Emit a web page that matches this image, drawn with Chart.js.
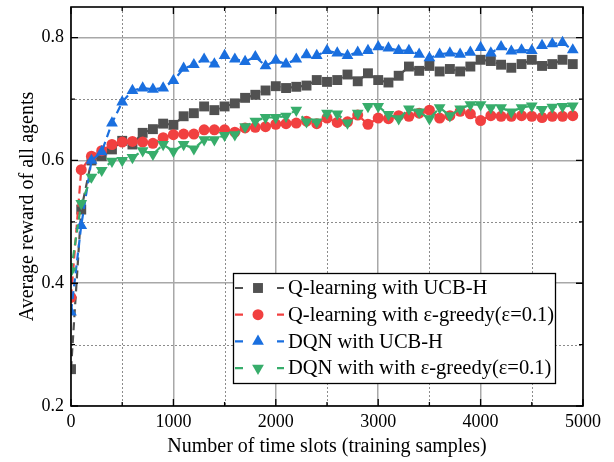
<!DOCTYPE html>
<html><head><meta charset="utf-8">
<script src="https://cdn.jsdelivr.net/npm/chart.js@4/dist/chart.umd.min.js"></script>
<style>html,body{margin:0;padding:0;background:#fff}</style>
</head><body>
<canvas id="c" width="614" height="462" style="display:block;width:614px;height:462px"></canvas>
<script>
// ---- data ----
const trainingSlots = [0,100,200,300,400,500,600,700,800,900,1000,1100,1200,1300,1400,1500,1600,1700,1800,1900,2000,2100,2200,2300,2400,2500,2600,2700,2800,2900,3000,3100,3200,3300,3400,3500,3600,3700,3800,3900,4000,4100,4200,4300,4400,4500,4600,4700,4800,4900];
const qLearningUcbH = [0.26,0.52,0.60,0.607,0.618,0.632,0.626,0.645,0.651,0.660,0.658,0.672,0.677,0.688,0.682,0.688,0.693,0.702,0.707,0.714,0.721,0.718,0.720,0.722,0.731,0.728,0.731,0.740,0.729,0.742,0.731,0.727,0.738,0.753,0.746,0.754,0.745,0.749,0.745,0.753,0.764,0.762,0.756,0.751,0.757,0.764,0.754,0.757,0.764,0.757];
const qLearningGreedy = [0.377,0.585,0.607,0.616,0.626,0.630,0.631,0.630,0.628,0.637,0.642,0.643,0.643,0.650,0.650,0.650,0.646,0.653,0.654,0.655,0.659,0.660,0.661,0.664,0.660,0.669,0.662,0.663,0.674,0.659,0.669,0.668,0.673,0.672,0.677,0.682,0.669,0.673,0.680,0.676,0.665,0.673,0.672,0.672,0.673,0.672,0.670,0.672,0.672,0.673];
const dqnUcbH = [0.353,0.494,0.600,0.614,0.661,0.695,0.714,0.718,0.716,0.718,0.730,0.750,0.756,0.765,0.757,0.771,0.765,0.761,0.769,0.754,0.763,0.757,0.765,0.772,0.771,0.779,0.775,0.771,0.776,0.779,0.785,0.783,0.779,0.779,0.773,0.767,0.773,0.775,0.773,0.776,0.784,0.775,0.785,0.778,0.780,0.779,0.787,0.790,0.792,0.780];
const dqnGreedy = [0.420,0.530,0.573,0.584,0.599,0.600,0.605,0.616,0.610,0.626,0.615,0.626,0.619,0.634,0.634,0.641,0.642,0.655,0.664,0.670,0.670,0.672,0.682,0.663,0.663,0.677,0.676,0.661,0.677,0.688,0.688,0.675,0.668,0.684,0.679,0.668,0.686,0.673,0.684,0.691,0.691,0.686,0.686,0.679,0.686,0.689,0.683,0.687,0.688,0.689];
const seriesNames = ["Q-learning with UCB-H","Q-learning with \u03b5-greedy(\u03b5=0.1)","DQN with UCB-H","DQN with with \u03b5-greedy(\u03b5=0.1)"];
const xTickValues = [0,1000,2000,3000,4000,5000];
const yTickValues = [0.2,0.4,0.6,0.8];
const xMinorValues = [500,1500,2500,3500,4500];
const yMinorValues = [0.3,0.5,0.7];
const xTitle = "Number of time slots (training samples)";
const yTitle = "Average reward of all agents";

// ---- styles ----
const FONT = "'Liberation Serif','Times New Roman',serif";
const colors = ['#515151','#F14040','#1A6FDF','#37AD6B'];
const markers = [
  {pointStyle:'rect', radius:7, rotation:0},
  {pointStyle:'circle', radius:5.5, rotation:0},
  {pointStyle:'triangle', radius:6.8, rotation:0},
  {pointStyle:'triangle', radius:6.8, rotation:180}
];
const seriesValues = [qLearningUcbH, qLearningGreedy, dqnUcbH, dqnGreedy];

const datasets = seriesValues.map((vals, i) => ({
  label: seriesNames[i],
  data: trainingSlots.map((x, j) => ({x: x, y: vals[j]})),
  borderColor: colors[i],
  backgroundColor: colors[i],
  borderWidth: 2.2,
  borderDash: [8, 5],
  pointStyle: markers[i].pointStyle,
  pointRadius: markers[i].radius,
  pointRotation: markers[i].rotation,
  pointBorderWidth: 0,
  pointBackgroundColor: colors[i],
  tension: 0,
  order: 3 - i
}));

function drawMarker(ctx, m, x, y, color) {
  ctx.save();
  ctx.fillStyle = color;
  ctx.beginPath();
  const r = m.radius;
  if (m.pointStyle === 'rect') {
    const s = Math.SQRT1_2 * r;
    ctx.rect(x - s, y - s, 2 * s, 2 * s);
  } else if (m.pointStyle === 'circle') {
    ctx.arc(x, y, r, 0, Math.PI * 2);
  } else {
    const rot = m.rotation * Math.PI / 180;
    for (let k = 0; k < 3; k++) {
      const a = rot + k * 2 * Math.PI / 3;
      const px = x + Math.sin(a) * r, py = y - Math.cos(a) * r;
      if (k === 0) ctx.moveTo(px, py); else ctx.lineTo(px, py);
    }
    ctx.closePath();
  }
  ctx.fill();
  ctx.restore();
}

const framePlugin = {
  id: 'frame',
  beforeDatasetsDraw(chart) {
    const {ctx, chartArea: a, scales: {x, y}} = chart;
    ctx.save();
    ctx.strokeStyle = '#8c8c8c';
    ctx.lineWidth = 1;
    ctx.setLineDash([2, 2]);
    xMinorValues.forEach(v => {
      const px = Math.round(x.getPixelForValue(v)) + 0.5;
      ctx.beginPath(); ctx.moveTo(px, a.top); ctx.lineTo(px, a.bottom); ctx.stroke();
    });
    yMinorValues.forEach(v => {
      const py = Math.round(y.getPixelForValue(v)) + 0.5;
      ctx.beginPath(); ctx.moveTo(a.left, py); ctx.lineTo(a.right, py); ctx.stroke();
    });
    ctx.restore();
  },
  afterDatasetsDraw(chart) {
    const {ctx, chartArea: a, scales: {x, y}} = chart;
    ctx.save();
    ctx.strokeStyle = '#000';
    ctx.lineWidth = 1.6;
    ctx.setLineDash([]);
    ctx.strokeRect(a.left, a.top, a.right - a.left, a.bottom - a.top);
    ctx.lineWidth = 1.3;
    const tick = (vals, len) => {
      vals.forEach(v => {
        const px = x.getPixelForValue(v);
        ctx.beginPath();
        ctx.moveTo(px, a.bottom); ctx.lineTo(px, a.bottom - len);
        ctx.moveTo(px, a.top); ctx.lineTo(px, a.top + len);
        ctx.stroke();
      });
    };
    const ytick = (vals, len) => {
      vals.forEach(v => {
        const py = y.getPixelForValue(v);
        ctx.beginPath();
        ctx.moveTo(a.left, py); ctx.lineTo(a.left + len, py);
        ctx.moveTo(a.right, py); ctx.lineTo(a.right - len, py);
        ctx.stroke();
      });
    };
    tick(xTickValues, 7); tick(xMinorValues, 4);
    ytick(yTickValues, 7); ytick(yMinorValues, 4);
    ctx.restore();
  },
  afterDraw(chart) {
    const {ctx} = chart;
    const box = {left: 233, top: 273, width: 322, height: 110};
    ctx.save();
    ctx.fillStyle = '#fff';
    ctx.fillRect(box.left, box.top, box.width, box.height);
    ctx.strokeStyle = '#000';
    ctx.lineWidth = 1.3;
    ctx.strokeRect(box.left + 0.5, box.top + 0.5, box.width, box.height);
    ctx.font = '20.5px ' + FONT;
    ctx.textBaseline = 'middle';
    ctx.textAlign = 'left';
    seriesNames.forEach((name, i) => {
      const cy = box.top + 15 + i * 26.7;
      ctx.strokeStyle = colors[i];
      ctx.lineWidth = 2.2;
      ctx.beginPath();
      ctx.moveTo(box.left + 2, cy); ctx.lineTo(box.left + 10, cy);
      ctx.moveTo(box.left + 44, cy); ctx.lineTo(box.left + 51, cy);
      ctx.stroke();
      drawMarker(ctx, markers[i], box.left + 25, cy, colors[i]);
      ctx.fillStyle = '#000';
      ctx.fillText(name, box.left + 55, cy + 1);
    });
    ctx.restore();
  }
};

new Chart(document.getElementById('c'), {
  type: 'line',
  data: {datasets},
  plugins: [framePlugin],
  options: {
    responsive: false,
    animation: false,
    devicePixelRatio: 1,
    layout: {padding: {top: 5, right: 31, bottom: 0, left: 0}},
    plugins: {legend: {display: false}, tooltip: {enabled: false}},
    scales: {
      x: {
        type: 'linear', min: 0, max: 5000,
        afterBuildTicks: s => { s.ticks = xTickValues.map(v => ({value: v})); },
        afterFit: s => { s.height = 56; s.paddingLeft = 0; s.paddingRight = 0; },
        ticks: {color: '#000', font: {family: FONT, size: 18}, padding: 5, maxRotation: 0, autoSkip: false, callback: v => String(v)},
        grid: {color: '#a8a8a8', lineWidth: 1.5, drawTicks: false},
        border: {display: false, dash: []},
        title: {display: true, text: xTitle, color: '#000', font: {family: FONT, size: 20}, padding: {top: 0, bottom: 3}}
      },
      y: {
        type: 'linear', min: 0.2, max: 0.85,
        afterBuildTicks: s => { s.ticks = yTickValues.map(v => ({value: v})); },
        afterFit: s => { s.width = 71; s.paddingTop = 0; s.paddingBottom = 0; },
        ticks: {color: '#000', font: {family: FONT, size: 18}, padding: 7, callback: v => v.toFixed(1)},
        grid: {color: '#a8a8a8', lineWidth: 1.5, drawTicks: false},
        border: {display: false, dash: []},
        title: {display: true, text: yTitle, color: '#000', font: {family: FONT, size: 20}, padding: {top: 16, bottom: 0}}
      }
    }
  }
});
</script>
</body></html>
